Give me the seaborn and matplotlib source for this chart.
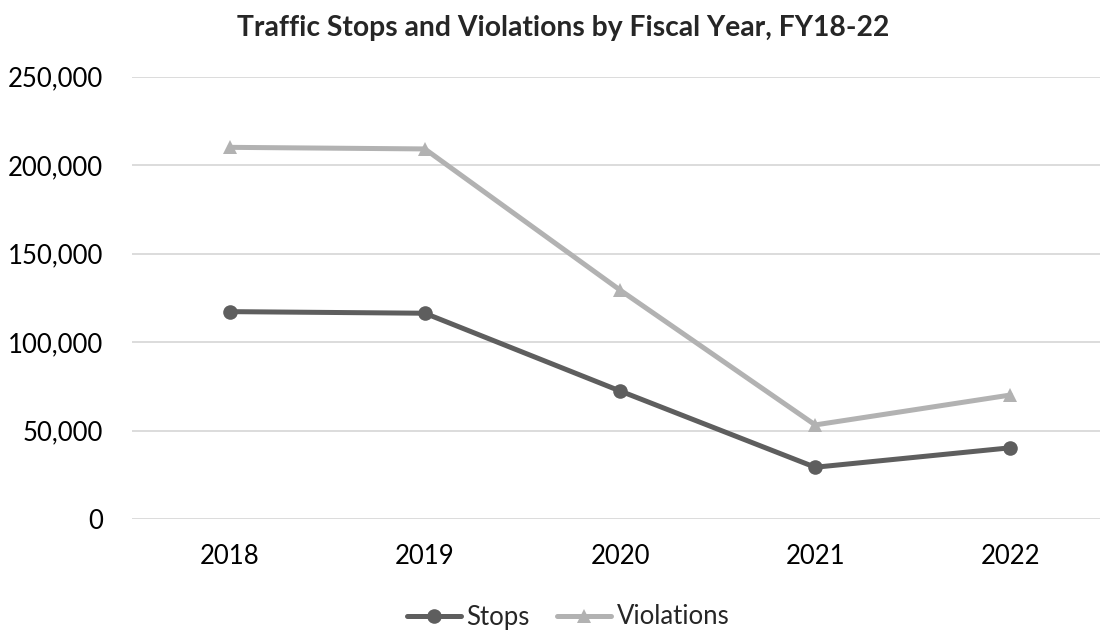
import matplotlib
matplotlib.use("Agg")
import matplotlib.pyplot as plt
import seaborn as sns
import pandas as pd
from matplotlib.ticker import FuncFormatter
from matplotlib.lines import Line2D

years = ["2018", "2019", "2020", "2021", "2022"]
stops = [117300, 116400, 72500, 29400, 40400]
violations = [210100, 209200, 129500, 53300, 70200]
series_names = ["Stops", "Violations"]
y_ticks = [0, 50000, 100000, 150000, 200000, 250000]

sns.set_theme(style="white")
plt.rcParams["font.family"] = ["Lato", "DejaVu Sans"]

rows = []
for name, vals in zip(series_names, [stops, violations]):
    for i, (yr, v) in enumerate(zip(years, vals)):
        rows.append({"pos": i, "year": yr, "value": v, "series": name})
df = pd.DataFrame(rows)

fig = plt.figure(figsize=(11, 6.31), dpi=100)
W, H = 1100, 631
left, right = 132, 1108
top, bottom = 76.7, 519.3
ax = fig.add_axes([left / W, (H - bottom) / H, (right - left) / W, (bottom - top) / H])

palette = {"Stops": "#5e5e5e", "Violations": "#b2b2b2"}
markers = {"Stops": "o", "Violations": "^"}
sns.lineplot(data=df, x="pos", y="value", hue="series", style="series",
             markers=markers, dashes=False, palette=palette, linewidth=3.6,
             markersize=10.5, markeredgewidth=0, ax=ax, legend=False, zorder=3)

ax.set_xlim(-0.5, 4.5)
ax.set_ylim(0, 250000)
ax.set_xticks(range(len(years)))
ax.set_xticklabels(years)
ax.set_yticks(y_ticks)
ax.yaxis.set_major_formatter(FuncFormatter(lambda v, p: f"{int(v):,}"))
ax.grid(axis="y", color="#d9d9d9", linewidth=1.3)
ax.set_axisbelow(True)
for s in ax.spines.values():
    s.set_visible(False)
ax.tick_params(axis="both", length=0, labelsize=18.5, colors="#000000")
ax.tick_params(axis="y", pad=21)
ax.tick_params(axis="x", pad=18)
ax.set_xlabel("")
ax.set_ylabel("")

fig.text(563 / W, 1 - 28 / H, "Traffic Stops and Violations by Fiscal Year, FY18-22",
         ha="center", va="center", fontsize=20.3, fontweight="bold")

handles = [Line2D([0], [0], color=palette[n], marker=markers[n], linewidth=3.6,
                  markersize=10.5, markeredgewidth=0) for n in series_names]
fig.legend(handles, series_names, loc="center", bbox_to_anchor=(568 / W, 1 - 617 / H),
           ncol=2, frameon=False, fontsize=18.5, handlelength=2.1, handletextpad=0.2,
           columnspacing=1.1)

fig.savefig("out.png", dpi=100)
